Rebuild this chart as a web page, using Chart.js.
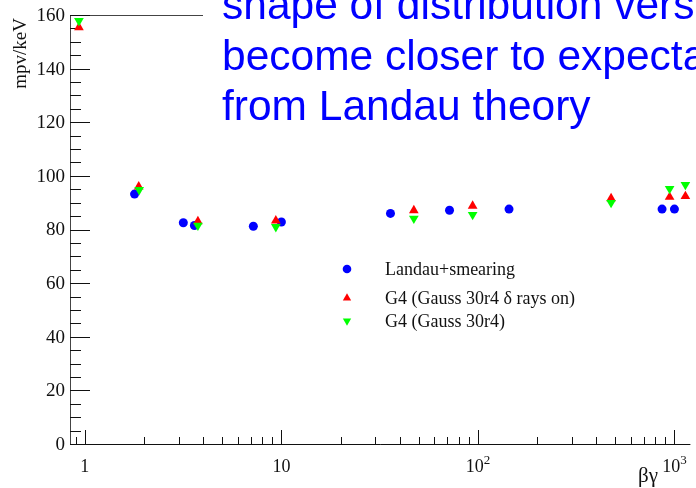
<!DOCTYPE html>
<html>
<head>
<meta charset="utf-8">
<script src="https://cdn.jsdelivr.net/npm/chart.js@4/dist/chart.umd.min.js"></script>
<style>
  html, body { margin: 0; padding: 0; background: #fff; overflow: hidden; }
  #wrap { position: relative; width: 696px; height: 488px; }
</style>
</head>
<body>
<div id="wrap"><canvas id="c" width="696" height="488"></canvas></div>
<script>
// ---- data ----
const landauX = [1.79, 3.17, 3.61, 7.2, 10, 35.9, 71.7, 144, 865, 1000];
const landauY = [93.2, 82.5, 81.5, 81.2, 82.8, 86.0, 87.2, 87.6, 87.6, 87.6];
const g4DeltaX = [0.933, 1.88, 3.76, 9.37, 47.2, 94, 476, 945, 1137];
const g4DeltaY = [155.4, 96.0, 83.0, 83.3, 87.1, 88.8, 91.6, 92.1, 92.4];
const g4X = [0.933, 1.89, 3.76, 9.37, 47.2, 94, 476, 945, 1137];
const g4Y = [157.8, 94.8, 81.5, 81.0, 84.1, 85.5, 90.0, 95.2, 96.7];
const seriesLabels = ['Landau+smearing', 'G4 (Gauss 30r4 \u03b4 rays on)', 'G4 (Gauss 30r4)'];
const yTickValues = [0, 20, 40, 60, 80, 100, 120, 140, 160];
const xTickValues = [1, 10, 100, 1000];
const xTickBase = ['1', '10', '10', '10'];
const xTickExp = ['', '', '2', '3'];
const xTitle = '\u03b2\u03b3';
const yTitle = 'mpv/keV';
const noteLines = ['shape of distribution versus \u03b2\u03b3', 'become closer to expectation', 'from Landau theory'];

const SERIF = "'Liberation Serif', 'DejaVu Serif', serif";
const SANS = "'Liberation Sans', Arial, sans-serif";
const BLUE = '#0000ff', RED = '#ff0000', GREEN = '#00ff00';

function pts(xs, ys) { return xs.map((x, i) => ({ x: x, y: ys[i] })); }

const axesPlugin = {
  id: 'rootAxes',
  beforeDatasetsDraw(chart) {
    const ctx = chart.ctx, a = chart.chartArea;
    const xs = chart.scales.x, ys = chart.scales.y;
    ctx.save();
    ctx.lineWidth = 1;
    // axis lines + top frame
    ctx.strokeStyle = '#444';
    ctx.beginPath();
    ctx.moveTo(a.left + 0.5, a.top); ctx.lineTo(a.left + 0.5, a.bottom);
    ctx.moveTo(a.left, a.top + 0.5); ctx.lineTo(a.right, a.top + 0.5);
    ctx.stroke();
    ctx.strokeStyle = '#111';
    ctx.beginPath();
    ctx.moveTo(a.left, a.bottom + 0.5); ctx.lineTo(a.right, a.bottom + 0.5);
    // y ticks (major every 20, minor every 5)
    for (let v = 0; v <= 160; v += 5) {
      const py = Math.round(ys.getPixelForValue(v)) + 0.5;
      const len = (v % 20 === 0) ? 20 : 11;
      ctx.moveTo(a.left, py); ctx.lineTo(a.left + len, py);
    }
    // x ticks (log, major at decades, minor at 2..9)
    for (let d = -1; d <= 3; d++) {
      for (let m = 1; m <= 9; m++) {
        const v = m * Math.pow(10, d);
        if (v < xs.min || v > xs.max) continue;
        const px = Math.round(xs.getPixelForValue(v)) + 0.5;
        const len = (m === 1) ? 14 : 7;
        ctx.moveTo(px, a.bottom); ctx.lineTo(px, a.bottom - len);
      }
    }
    ctx.stroke();
    ctx.restore();
  },
  afterDraw(chart) {
    const ctx = chart.ctx, a = chart.chartArea;
    const xs = chart.scales.x, ys = chart.scales.y;
    ctx.save();
    // y tick labels
    ctx.fillStyle = '#111';
    ctx.font = '19px ' + SERIF;
    ctx.textAlign = 'right';
    ctx.textBaseline = 'middle';
    yTickValues.forEach(v => {
      ctx.fillText(String(v), a.left - 5, ys.getPixelForValue(v) + 1);
    });
    // x tick labels with superscripts
    xTickValues.forEach((v, i) => {
      const px = xs.getPixelForValue(v);
      ctx.font = '18px ' + SERIF;
      const wb = ctx.measureText(xTickBase[i]).width;
      ctx.font = '13px ' + SERIF;
      const we = xTickExp[i] ? ctx.measureText(xTickExp[i]).width : 0;
      const x0 = px - (wb + we) / 2;
      ctx.textAlign = 'left';
      ctx.textBaseline = 'alphabetic';
      ctx.font = '18px ' + SERIF;
      ctx.fillText(xTickBase[i], x0, 472);
      if (xTickExp[i]) {
        ctx.font = '13px ' + SERIF;
        ctx.fillText(xTickExp[i], x0 + wb, 464);
      }
    });
    // x title
    ctx.font = '21px ' + SERIF;
    ctx.textAlign = 'right';
    ctx.textBaseline = 'alphabetic';
    ctx.fillText(xTitle, 658, 482);
    // y title (rotated, right-aligned at the top)
    ctx.save();
    ctx.translate(21, 18);
    ctx.rotate(-Math.PI / 2);
    ctx.font = '19px ' + SERIF;
    ctx.textAlign = 'right';
    ctx.textBaseline = 'middle';
    ctx.fillText(yTitle, 0, 0);
    ctx.restore();
    // legend
    const legY = [269, 298, 321];
    const legR = [4.3, 4.8, 4.8];
    ctx.font = '18px ' + SERIF;
    ctx.textAlign = 'left';
    ctx.textBaseline = 'middle';
    chart.data.datasets.forEach((ds, i) => {
      ctx.fillStyle = ds.backgroundColor;
      ctx.strokeStyle = ds.backgroundColor;
      ctx.lineWidth = 0;
      Chart.helpers.drawPoint(ctx, {
        pointStyle: ds.pointStyle, rotation: ds.rotation || 0,
        radius: legR[i], borderWidth: 0
      }, 347, legY[i]);
      ctx.fillStyle = '#111';
      ctx.fillText(seriesLabels[i], 385, legY[i] + 1);
    });
    // note box
    ctx.fillStyle = '#fff';
    ctx.fillRect(203, 0, 696 - 203, 134);
    ctx.fillStyle = BLUE;
    ctx.font = '42.5px ' + SANS;
    ctx.textAlign = 'left';
    ctx.textBaseline = 'alphabetic';
    const base = [19, 70, 120];
    noteLines.forEach((t, i) => ctx.fillText(t, 222, base[i]));
    ctx.restore();
  }
};

new Chart(document.getElementById('c'), {
  type: 'scatter',
  data: {
    datasets: [
      { label: seriesLabels[0], data: pts(landauX, landauY), pointStyle: 'circle', pointRadius: 4.5,
        backgroundColor: BLUE, borderColor: BLUE, borderWidth: 0, order: 2 },
      { label: seriesLabels[1], data: pts(g4DeltaX, g4DeltaY), pointStyle: 'triangle', pointRadius: 5.6,
        backgroundColor: RED, borderColor: RED, borderWidth: 0, order: 1 },
      { label: seriesLabels[2], data: pts(g4X, g4Y), pointStyle: 'triangle', rotation: 180, pointRadius: 5.6,
        backgroundColor: GREEN, borderColor: GREEN, borderWidth: 0, order: 0 }
    ]
  },
  options: {
    responsive: false,
    animation: false,
    devicePixelRatio: 1,
    layout: { padding: { left: 70, right: 0, top: 15, bottom: 44 } },
    plugins: { legend: { display: false }, tooltip: { enabled: false } },
    scales: {
      x: { type: 'logarithmic', display: false, min: 0.8403, max: 1205.6 },
      y: { type: 'linear', display: false, min: 0, max: 160 }
    }
  },
  plugins: [axesPlugin]
});
</script>
</body>
</html>
